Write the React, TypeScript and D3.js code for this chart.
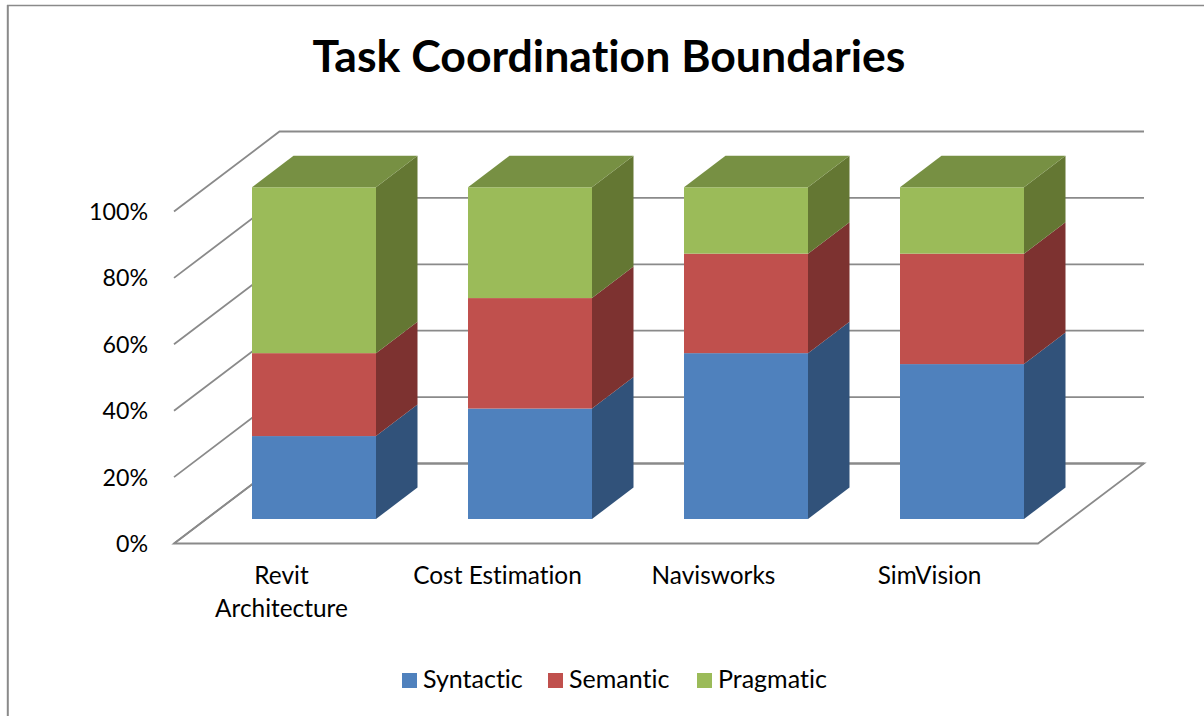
import React from "react";
import * as d3 from "d3";

const title = "Task Coordination Boundaries";
const categories = ["Revit Architecture", "Cost Estimation", "Navisworks", "SimVision"];
const categoryLines = [["Revit", "Architecture"], ["Cost Estimation"], ["Navisworks"], ["SimVision"]];
const seriesNames = ["Syntactic", "Semantic", "Pragmatic"];
const syntactic = [25, 33.3, 50, 46.7];
const semantic = [25, 33.3, 30, 33.3];
const pragmatic = [50, 33.4, 20, 20];
const ticks = [0, 20, 40, 60, 80, 100];

const frontColors = ["#4F81BD", "#C0504D", "#9BBB59"];
const sideColors = ["#31527A", "#7D3230", "#647733"];
const topColor = "#779043";
const axisColor = "#8a8a8a";
const FONT = "Lato, 'Noto Sans', sans-serif";
const noLig: React.CSSProperties = { fontVariantLigatures: "none" };

const W = 1204, H = 716;
// oblique projection
const wallDX = 105.5, wallDY = -80;
const barDX = 41.5, barDY = -31.5;

const yFront = d3.scaleLinear().domain([0, 100]).range([543.5, 211.5]);
const yBar = d3.scaleLinear().domain([0, 100]).range([519, 187.3]);
const xBars = d3.scaleBand<string>().domain(categories).range([252, 1116]).paddingInner(0).align(0);
const xLabels = d3.scaleBand<string>().domain(categories).range([174, 1038]);
const BAR_W = 124;

const poly = (pts: [number, number][]) => d3.line()(pts) + "Z";

export default function App() {
  const stacks = d3.stack<number>()
    .keys(["0", "1", "2"])
    .value((i, k) => [syntactic, semantic, pragmatic][+k][i])(d3.range(categories.length));
  const legendX = [402, 548, 697];
  return (
    <svg width={W} height={H} viewBox={`0 0 ${W} ${H}`} style={{ position: "absolute", left: 0, top: 0, background: "#fff" }}>
      <path d={`M7 5.5H${W}`} fill="none" stroke="#8a8a8a" strokeWidth={1.3} />
      <path d={`M7.8 5V${H}`} fill="none" stroke="#8a8a8a" strokeWidth={2} />
      <text x={609} y={72} textAnchor="middle" fontFamily={FONT} fontWeight={700} fontSize={44.6} fill="#000" style={noLig}>{title}</text>

      {ticks.map((t) => {
        const y = yFront(t);
        const x0 = xLabels.range()[0];
        return (
          <g key={t}>
            <path d={d3.line()([[x0, y], [x0 + wallDX, y + wallDY], [1144, y + wallDY]]) as string}
              fill="none" stroke={axisColor} strokeWidth={1.8} />
            <text x={148} y={y + 8.5} textAnchor="end" fontFamily={FONT} fontSize={23.2} fill="#000">{t}%</text>
          </g>
        );
      })}
      <path d={poly([[174, 543.5], [1038, 543.5], [1144, 463.5], [279.5, 463.5]])} fill="none" stroke={axisColor} strokeWidth={1.8} />

      {categories.map((c, i) => {
        const x = xBars(c)!;
        const last = stacks[2][i][1];
        return (
          <g key={c}>
            {stacks.map((s, k) => {
              const yb = yBar(s[i][0]), yt = yBar(s[i][1]);
              return (
                <g key={k}>
                  <path d={poly([[x + BAR_W, yb], [x + BAR_W + barDX, yb + barDY], [x + BAR_W + barDX, yt + barDY], [x + BAR_W, yt]])} fill={sideColors[k]} />
                  <rect x={x} y={yt} width={BAR_W} height={yb - yt} fill={frontColors[k]} />
                </g>
              );
            })}
            <path d={poly([[x, yBar(last)], [x + barDX, yBar(last) + barDY], [x + BAR_W + barDX, yBar(last) + barDY], [x + BAR_W, yBar(last)]])} fill={topColor} />
            {categoryLines[i].map((l, j) => (
              <text key={j} x={xLabels(c)! + xLabels.bandwidth() / 2 - 0.5} y={584 + j * 33} textAnchor="middle" fontFamily={FONT} fontSize={24.4} fill="#000" style={noLig}>{l}</text>
            ))}
          </g>
        );
      })}

      {seriesNames.map((n, k) => (
        <g key={n}>
          <rect x={legendX[k]} y={673} width={15} height={15} fill={frontColors[k]} />
          <text x={legendX[k] + 21} y={688} fontFamily={FONT} fontSize={25} fill="#000" style={noLig}>{n}</text>
        </g>
      ))}
    </svg>
  );
}
